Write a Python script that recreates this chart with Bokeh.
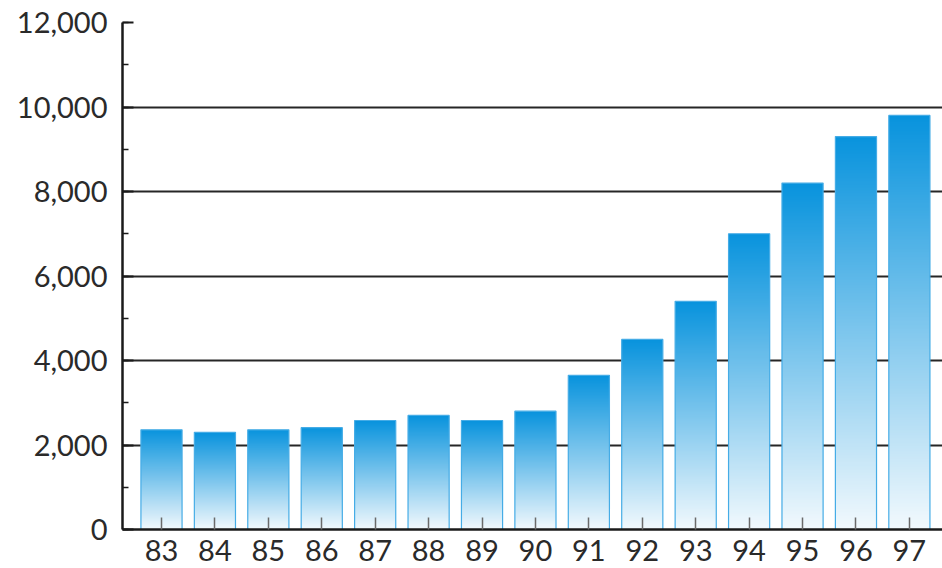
import numpy as np
from bokeh.plotting import figure
from bokeh.models import (ColumnDataSource, FixedTicker, SingleIntervalTicker,
                          NumeralTickFormatter, Range1d, LinearColorMapper)
from bokeh.embed import file_html
from bokeh.resources import INLINE

# ---- data ----
years = [83, 84, 85, 86, 87, 88, 89, 90, 91, 92, 93, 94, 95, 96, 97]
values = [2360, 2300, 2360, 2410, 2580, 2700, 2580, 2800, 3650, 4500, 5400,
          7000, 8200, 9300, 9800]
y_ticks = [0, 2000, 4000, 6000, 8000, 10000, 12000]

BAR_W = 0.77
TOP = (8, 147, 221)
BOTTOM = (242, 249, 253)

def hexc(c):
    return "#%02x%02x%02x" % tuple(int(round(v)) for v in c)

palette = [hexc([BOTTOM[k] + (TOP[k] - BOTTOM[k]) * t / 255.0 for k in range(3)])
           for t in range(256)]
mapper = LinearColorMapper(palette=palette, low=0, high=255)

grad = np.arange(256, dtype=float).reshape(256, 1)

src = ColumnDataSource(dict(
    x=years,
    top=values,
    left=[y - BAR_W / 2 for y in years],
    image=[grad for _ in years],
    dw=[BAR_W for _ in years],
))

p = figure(width=942, height=568, output_backend="svg", toolbar_location=None,
           x_range=Range1d(82.27, 97.62), y_range=Range1d(0, 12000),
           min_border_left=122, min_border_right=0, min_border_top=22,
           min_border_bottom=39)
p.outline_line_color = None
p.background_fill_color = "white"
p.border_fill_color = "white"

p.image(image="image", x="left", y=0, dw="dw", dh="top", color_mapper=mapper,
        source=src)
p.vbar(x="x", top="top", width=BAR_W, source=src, fill_color=None,
       line_color="#45ace6", line_width=1.2)

font = "Lato"
# x axis
xa = p.xaxis[0]
xa.ticker = FixedTicker(ticks=years)
xa.axis_line_color = "#1a1a1a"
xa.axis_line_width = 2.5
xa.major_tick_in = 12
xa.major_tick_out = 0
xa.major_tick_line_color = "#6a6a6a"
xa.major_tick_line_width = 1.5
xa.minor_tick_line_color = None
xa.major_label_text_font = font
xa.major_label_text_font_size = "29px"
xa.major_label_text_color = "#2a2a2a"
xa.major_label_standoff = 10

# y axis
ya = p.yaxis[0]
ya.ticker = SingleIntervalTicker(interval=2000, num_minor_ticks=2)
ya.formatter = NumeralTickFormatter(format="0,0")
ya.axis_line_color = "#1a1a1a"
ya.axis_line_width = 2.5
ya.major_tick_in = 11
ya.major_tick_out = 0
ya.major_tick_line_color = "#1a1a1a"
ya.major_tick_line_width = 2
ya.minor_tick_in = 6
ya.minor_tick_out = 0
ya.minor_tick_line_color = "#1a1a1a"
ya.minor_tick_line_width = 1.5
ya.major_label_text_font = font
ya.major_label_text_font_size = "29px"
ya.major_label_text_color = "#2a2a2a"
ya.major_label_standoff = 15

p.xgrid.grid_line_color = None
p.ygrid.ticker = FixedTicker(ticks=y_ticks)
p.ygrid.grid_line_color = "#262626"
p.ygrid.grid_line_width = 2

open("out.html", "w").write(file_html(p, INLINE))
